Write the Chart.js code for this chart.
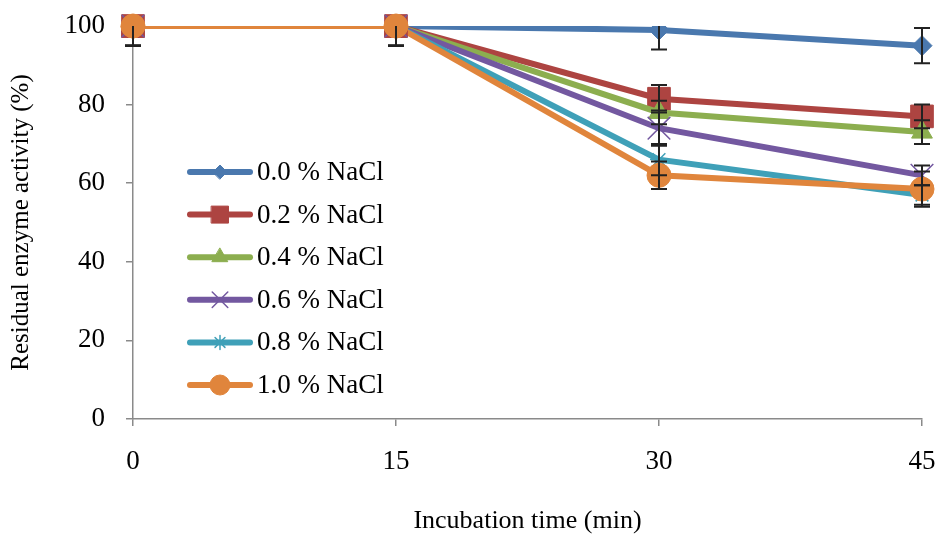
<!DOCTYPE html>
<html>
<head>
<meta charset="utf-8">
<script src="https://cdn.jsdelivr.net/npm/chart.js@4.4.1/dist/chart.umd.min.js"></script>
<style>
  body { margin: 0; background: #fff; }
  #wrap { width: 940px; height: 534px; }
</style>
</head>
<body>
<div id="wrap"><canvas id="myChart" width="940" height="534"></canvas></div>
<script>
// Datos de la grafica
const tiempos = [0, 15, 30, 45];
const series = ["0.0 % NaCl", "0.2 % NaCl", "0.4 % NaCl", "0.6 % NaCl", "0.8 % NaCl", "1.0 % NaCl"];

const nacl00 = [100, 100, 99, 95];
const nacl02 = [100, 100, 81.5, 77];
const nacl04 = [100, 100, 78, 73];
const nacl06 = [100, 100, 74, 62];
const nacl08 = [100, 100, 66, 57];
const nacl10 = [100, 100, 62, 58.5];

// desviaciones (barras de error)
const err00 = [5, 5, 5, 4.5];
const err02 = [5, 5, 3.5, 3];
const err04 = [5, 5, 3, 3];
const err06 = [5, 5, 4.5, 2.5];
const err08 = [5, 5, 4, 2.5];
const err10 = [5, 5, 3.5, 4.5];

const yTicks = [0, 20, 40, 60, 80, 100];

const valores = [nacl00, nacl02, nacl04, nacl06, nacl08, nacl10];
const errores = [err00, err02, err04, err06, err08, err10];

const colores = ["#4A78AE", "#AD4441", "#8CAE4F", "#7358A0", "#3FA0B8", "#E0853C"];
const marcas = ["rectRot", "rect", "triangle", "crossRot", "star", "circle"];
const radios = [10, 16, 12, 16, 9, 12];
const radiosLeyenda = [7, 12, 9, 11, 7, 10];
const bordes = [1, 1, 1, 1.5, 1.5, 1];

const serif = "'Liberation Serif', 'Times New Roman', serif";

// barras de error + leyenda dentro del area
const extras = {
  id: "extras",
  afterDatasetsDraw(chart) {
    const ctx = chart.ctx;
    const x = chart.scales.x, y = chart.scales.y;
    const a = chart.chartArea;

    // las marcas en el borde superior no se recortan (como en Excel)
    valores.forEach((serie, i) => {
      const meta = chart.getDatasetMeta(i);
      serie.forEach((v, j) => {
        if (v >= y.max) meta.data[j].draw(ctx, a);
      });
    });

    ctx.save();
    ctx.beginPath();
    ctx.rect(a.left - 20, a.top, a.right - a.left + 40, a.bottom - a.top);
    ctx.clip();
    ctx.strokeStyle = "#222";
    ctx.lineWidth = 2;
    valores.forEach((serie, i) => {
      serie.forEach((v, j) => {
        const px = x.getPixelForValue(tiempos[j]);
        const y1 = y.getPixelForValue(v - errores[i][j]);
        const y2 = y.getPixelForValue(v + errores[i][j]);
        ctx.beginPath();
        ctx.moveTo(px, y1); ctx.lineTo(px, y2);
        ctx.moveTo(px - 8, y1); ctx.lineTo(px + 8, y1);
        ctx.moveTo(px - 8, y2); ctx.lineTo(px + 8, y2);
        ctx.stroke();
      });
    });
    ctx.restore();

    // leyenda
    ctx.save();
    series.forEach((nombre, i) => {
      const ly = 172 + i * 42.6;
      ctx.strokeStyle = colores[i];
      ctx.lineWidth = 6;
      ctx.lineCap = "round";
      ctx.beginPath();
      ctx.moveTo(190, ly); ctx.lineTo(250, ly);
      ctx.stroke();
      ctx.fillStyle = colores[i];
      ctx.strokeStyle = colores[i];
      ctx.lineWidth = bordes[i];
      Chart.helpers.drawPoint(ctx, {pointStyle: marcas[i], radius: radiosLeyenda[i], borderWidth: bordes[i]}, 220, ly);
      ctx.fillStyle = "#000";
      ctx.font = "27px " + serif;
      ctx.textBaseline = "middle";
      ctx.fillText(nombre, 257, ly + 1);
    });
    ctx.restore();
  }
};

const ctx = document.getElementById("myChart").getContext("2d");
const myChart = new Chart(ctx, {
  type: "line",
  data: {
    datasets: series.map((nombre, i) => ({
      label: nombre,
      data: tiempos.map((t, j) => ({x: t, y: valores[i][j]})),
      borderColor: colores[i],
      backgroundColor: colores[i],
      borderWidth: 6,
      pointStyle: marcas[i],
      pointRadius: radios[i],
      pointBorderWidth: bordes[i],
      pointBorderColor: colores[i],
      pointBackgroundColor: colores[i],
      order: series.length - i,
      clip: { left: 20, top: 0, right: 20, bottom: 20 },
      tension: 0
    }))
  },
  options: {
    responsive: false,
    animation: false,
    layout: { padding: { left: 0, right: 18, top: 26, bottom: 0 } },
    plugins: { legend: { display: false }, tooltip: { enabled: false } },
    scales: {
      x: {
        type: "linear",
        min: 0, max: 45,
        afterBuildTicks: (s) => { s.ticks = tiempos.map(v => ({value: v})); },
        afterFit: (s) => { s.height = 115; s.paddingLeft = 0; s.paddingRight = 0; },
        grid: { drawOnChartArea: false, tickLength: 7, color: "#8a8a8a", lineWidth: 1.5 },
        border: { color: "#8a8a8a", width: 1.5 },
        ticks: { color: "#000", padding: 20, font: { family: serif, size: 27 } },
        title: { display: true, text: "Incubation time (min)", color: "#000",
                 font: { family: serif, size: 26, lineHeight: 1 }, padding: { top: 0, bottom: 0 } }
      },
      y: {
        min: 0, max: 100,
        afterBuildTicks: (s) => { s.ticks = yTicks.map(v => ({value: v})); },
        afterFit: (s) => { s.width = 133; s.paddingTop = 0; s.paddingBottom = 0; },
        grid: { drawOnChartArea: false, tickLength: 7, color: "#8a8a8a", lineWidth: 1.5 },
        border: { color: "#8a8a8a", width: 1.5 },
        ticks: { color: "#000", padding: 21, font: { family: serif, size: 27 } },
        title: { display: true, text: "Residual enzyme activity (%)", color: "#000",
                 font: { family: serif, size: 25, lineHeight: 1.2 }, padding: { top: 6, bottom: 4 } }
      }
    }
  },
  plugins: [extras]
});
</script>
</body>
</html>
